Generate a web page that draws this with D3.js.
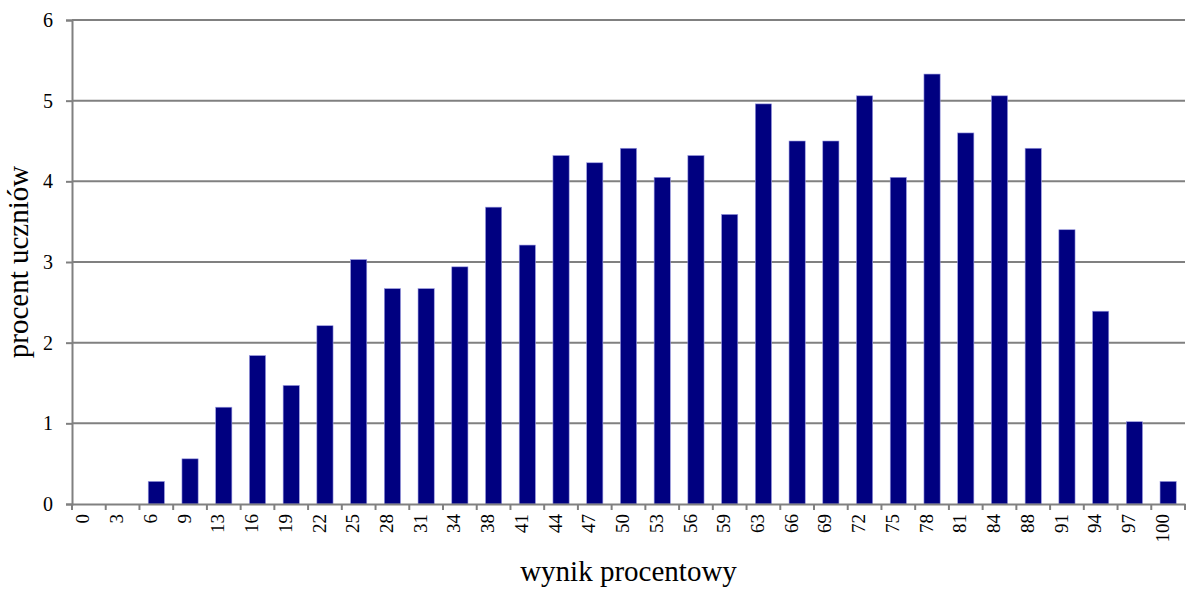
<!DOCTYPE html>
<html><head><meta charset="utf-8">
<script src="https://cdn.jsdelivr.net/npm/d3@7"></script>
<style>body{margin:0;background:#fff}svg{display:block}</style>
</head><body>
<script>
const categories = ["0","3","6","9","13","16","19","22","25","28","31","34","38","41","44","47","50","53","56","59","63","66","69","72","75","78","81","84","88","91","94","97","100"];
const values = [0,0,0.28,0.56,1.2,1.84,1.47,2.21,3.03,2.67,2.67,2.94,3.68,3.21,4.32,4.23,4.41,4.05,4.32,3.59,4.96,4.5,4.5,5.06,4.05,5.33,4.6,5.06,4.41,3.4,2.39,1.02,0.28];
const yTicks = [0,1,2,3,4,5,6];

const W=1186,H=590;
const m={left:72,right:1,top:20,bottom:86};
const svg=d3.select("body").append("svg").attr("width",W).attr("height",H);
const x=d3.scaleBand().domain(categories).range([m.left,W-m.right]).paddingInner(0.52).paddingOuter(0.26);
const y=d3.scaleLinear().domain([0,6]).range([H-m.bottom,m.top]);
const font="'Liberation Serif','Times New Roman',serif";

// gridlines
svg.append("g").selectAll("line").data(yTicks.filter(d=>d>0)).join("line")
  .attr("x1",m.left).attr("x2",W-m.right).attr("y1",d=>y(d)).attr("y2",d=>y(d))
  .attr("stroke","#808080").attr("stroke-width",2);

// bars
svg.append("g").selectAll("rect").data(values).join("rect")
  .attr("x",(d,i)=>x(categories[i])).attr("width",x.bandwidth())
  .attr("y",d=>y(d)).attr("height",d=>y(0)-y(d))
  .attr("fill","#000080").attr("stroke","#9a9ae0").attr("stroke-width",0.6);

// y axis
const ya=svg.append("g").attr("transform",`translate(${m.left},0)`)
  .call(d3.axisLeft(y).tickValues(yTicks).tickSize(6).tickPadding(13).tickFormat(d3.format("d")));
ya.attr("font-family",null).attr("font-size",null);
ya.select(".domain").attr("stroke","#808080").attr("stroke-width",2);
ya.selectAll(".tick line").attr("stroke","#808080").attr("stroke-width",2);
ya.selectAll("text").style("font-family",font).style("font-size","20px").attr("fill","#000");

// x axis
const step=x.step();
const xa=svg.append("g").attr("transform",`translate(0,${y(0)})`)
  .call(d3.axisBottom(x).tickSize(0).tickSizeOuter(0));
xa.attr("font-family",null).attr("font-size",null);
xa.select(".domain").attr("stroke","#808080").attr("stroke-width",2);
xa.selectAll("text").style("font-family",font).style("font-size","19px").attr("fill","#000")
  .attr("transform","rotate(-90)").attr("text-anchor","end").attr("dx","-10px").attr("dy","-0.2em")
  .attr("x",0).attr("y",0).style("dominant-baseline","middle");
// boundary ticks
svg.append("g").selectAll("line").data(d3.range(categories.length+1)).join("line")
  .attr("x1",i=>m.left+i*step).attr("x2",i=>m.left+i*step)
  .attr("y1",y(0)).attr("y2",y(0)+6).attr("stroke","#808080").attr("stroke-width",2);

// axis titles
svg.append("text").attr("x",(m.left+W-m.right)/2).attr("y",581)
  .attr("text-anchor","middle").style("font-family",font).style("font-size","29px").text("wynik procentowy");
svg.append("text").attr("transform",`translate(28,${(m.top+y(0))/2}) rotate(-90)`)
  .attr("text-anchor","middle").style("font-family",font).style("font-size","29px").text("procent uczniów");
</script>
</body></html>
